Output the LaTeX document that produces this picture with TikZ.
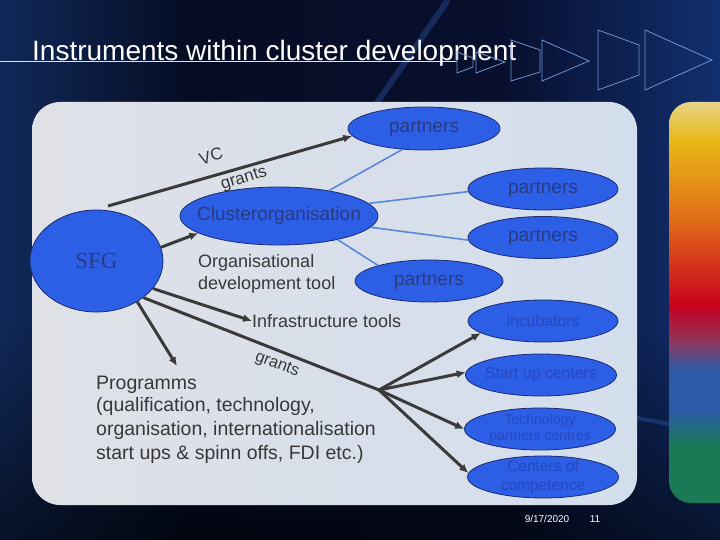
\documentclass[tikz,border=0pt]{standalone}
\usepackage{fontspec}
\setmainfont{Liberation Sans}
\newfontfamily\sfgfont{Liberation Serif}
\usetikzlibrary{shapes.geometric,arrows.meta,fadings}
\definecolor{panelL}{HTML}{DFE1E7}
\definecolor{panelR}{HTML}{D3DEEC}
\definecolor{ellblue}{HTML}{2C5EE6}
\definecolor{ellborder}{HTML}{1C2C70}
\definecolor{ptext}{HTML}{2B3B80}
\definecolor{rtext}{HTML}{2747BC}
\definecolor{dgray}{HTML}{383838}
\definecolor{arrgray}{HTML}{3A3A3A}
\definecolor{plinecol}{HTML}{5A88D8}
\definecolor{chev}{HTML}{6F93D0}
\definecolor{streak}{HTML}{3A6ED0}
\definecolor{rb1}{HTML}{E8D488}
\definecolor{rb2}{HTML}{E8B818}
\definecolor{rb3}{HTML}{E06818}
\definecolor{rb4}{HTML}{C8001E}
\definecolor{rb5}{HTML}{8A3A60}
\definecolor{rb6}{HTML}{2A5AA8}
\definecolor{rb7}{HTML}{1A7A55}
\pgfdeclarehorizontalshading{bgshade}{100bp}{
  rgb(0bp)=(0.16,0.36,0.68);
  rgb(18bp)=(0.09,0.22,0.46);
  rgb(38bp)=(0.02,0.05,0.14);
  rgb(60bp)=(0.03,0.06,0.18);
  rgb(80bp)=(0.08,0.23,0.52);
  rgb(100bp)=(0.12,0.31,0.64)}
\tikzset{
  ell/.style={ellipse, draw=ellborder, line width=0.8pt, fill=ellblue, inner sep=0pt},
  ptxt/.style={text=ptext, inner sep=0pt, font=\fontsize{19}{22}\selectfont},
  rtxt/.style={text=rtext, inner sep=0pt, align=center, font=\fontsize{15.8}{17}\selectfont},
  sfgtxt/.style={text=ptext, inner sep=0pt, font=\sfgfont\fontsize{23}{25}\selectfont},
  dtxt/.style={text=dgray, inner sep=0pt},
  progtxt/.style={dtxt, align=left, font=\fontsize{19.5}{24}\selectfont},
  arr/.style={draw=arrgray, line width=3pt, -{Latex[length=9pt,width=8pt]}},
  gline/.style={draw=arrgray, line width=3pt},
  pline/.style={draw=plinecol, line width=1.6pt},
  chevron/.style={draw=chev, line width=0.8pt},
}
\begin{document}
\begin{tikzpicture}[x=1pt,y=-1pt]
\useasboundingbox (0,0) rectangle (720,540);
% background
\shade[shading=bgshade] (0,0) rectangle (720,540);
\fill[black, opacity=0.55, path fading=north] (0,330) rectangle (720,540);
\draw[streak, line width=6pt, opacity=0.3] (372,110) -- (448,0);
\draw[streak, line width=4pt, opacity=0.3] (637,418) -- (669,424);
% title
\draw[white!75!chev, line width=0.8pt] (0,61) -- (457,61);
\node[anchor=base west, inner sep=0pt, text=white, font=\fontsize{28}{30}\selectfont] (title) at (32,61) {Instruments within cluster development};
% chevrons
\draw[chevron] (457,52) -- (473,58) -- (473,67) -- (457,73) -- cycle;
\draw[chevron] (476,52) -- (505,62) -- (476,73) -- cycle;
\draw[chevron] (511,40) -- (540,50) -- (540,72) -- (511,81) -- cycle;
\draw[chevron] (542,40) -- (589,61) -- (542,81) -- cycle;
\draw[chevron] (598,30) -- (639,45) -- (639,75) -- (598,90) -- cycle;
\draw[chevron] (645,30) -- (712,60) -- (645,90) -- cycle;
% panel
\shade[rounded corners=28pt, left color=panelL, right color=panelR] (32,102) rectangle (637,505);
% right colour bar
\begin{scope}
  \clip[rounded corners=22pt] (669,102) rectangle (760,503);
  \shade[top color=rb1, bottom color=rb2] (669,102) rectangle (720,141);
  \shade[top color=rb2, bottom color=rb3] (669,140) rectangle (720,224);
  \shade[top color=rb3, bottom color=rb4] (669,223) rectangle (720,306);
  \shade[top color=rb4, bottom color=rb5] (669,305) rectangle (720,344);
  \shade[top color=rb5, bottom color=rb6] (669,343) rectangle (720,371);
  \shade[top color=rb6, bottom color=rb6] (669,370) rectangle (720,411);
  \shade[top color=rb6, bottom color=rb7] (669,410) rectangle (720,446);
  \fill[rb7] (669,445) rectangle (720,503);
\end{scope}
% nodes
\node[ell, minimum width=152pt, minimum height=43pt, label={[ptxt]center:partners}] (p1) at (424,128.5) {};
\node[ell, minimum width=150pt, minimum height=42pt, label={[ptxt]center:partners}] (p2) at (543,189) {};
\node[ell, minimum width=150pt, minimum height=42pt, label={[ptxt]center:partners}] (p3) at (543,237.5) {};
\node[ell, minimum width=148pt, minimum height=42pt, label={[ptxt]center:partners}] (p4) at (429,281) {};
\node[ell, minimum width=198pt, minimum height=58pt, label={[ptxt]center:Clusterorganisation}] (clus) at (279,216) {};
\node[ell, minimum width=133pt, minimum height=102pt, label={[sfgtxt]center:SFG}] (sfg) at (96.5,261) {};
\node[ell, minimum width=150pt, minimum height=42pt, label={[rtxt]center:incubators}] (inc) at (543,321) {};
\node[ell, minimum width=151pt, minimum height=42pt, label={[rtxt]center:Start up centers}] (stc) at (541,375) {};
\node[ell, minimum width=151pt, minimum height=42pt, label={[rtxt, font=\fontsize{14}{16}\selectfont]center:{Technology\\partners centres}}] (tech) at (540,429) {};
\node[ell, minimum width=151pt, minimum height=42pt, label={[rtxt, font=\fontsize{15.5}{19}\selectfont]center:{Centers of\\competence}}] (comp) at (543,477) {};
% plain texts
\node[dtxt, anchor=west, align=left, font=\fontsize{18}{22}\selectfont] (odt) at (198,274) {Organisational\\development tool};
\node[dtxt, anchor=west, font=\fontsize{18}{22}\selectfont] (infra) at (252,321) {Infrastructure tools};
\node[progtxt, anchor=base west] (prog) at (96,389) {Programms};
\node[progtxt, anchor=west] (progb) at (96,430) {(qualification, technology,\\organisation, internationalisation\\start ups \& spinn offs, FDI etc.)};
\node[dtxt, rotate=17, font=\fontsize{17}{17}\selectfont] (vc) at (211,156) {VC};
\node[dtxt, rotate=17, font=\fontsize{17}{17}\selectfont] (g1) at (244,179) {grants};
\node[dtxt, rotate=-21, font=\fontsize{16.5}{17}\selectfont] (g2) at (277,365) {grants};
% footer
\node[text=white, inner sep=0pt, font=\fontsize{10}{12}\selectfont] (date) at (547,519) {9/17/2020};
\node[text=white, inner sep=0pt, font=\fontsize{10}{12}\selectfont] (pg) at (595,519) {11};
% connectors
\draw[pline] (clus.27) -- (p1.224);
\draw[pline] (clus.8) -- (p2.182);
\draw[pline] (clus.-7) -- (p3.182);
\draw[pline] (clus.-22) -- (p4.163);
\coordinate (vcs) at (108,206);
\draw[arr] (vcs) -- (p1.186);
\draw[arr] (sfg.12) -- (clus.192);
\draw[arr] (sfg.-26) -- (infra.west);
\coordinate (progtip) at (177,366);
\draw[arr] (sfg.-45) -- (progtip);
\coordinate (hub) at (379,390);
\draw[gline] (sfg.-38) -- (hub);
\draw[arr] (hub) -- (inc.191);
\draw[arr] (hub) -- (stc.178);
\draw[arr] (hub) -- (tech.180);
\draw[arr] (hub) -- (comp.177);
\end{tikzpicture}
\end{document}
